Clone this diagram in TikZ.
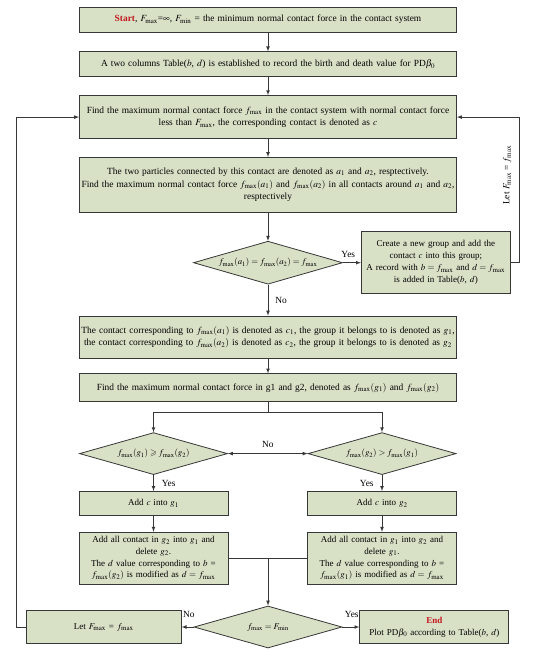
\documentclass[tikz,border=0pt]{standalone}
\usepackage{amsmath}
\usepackage{amssymb}
\usepackage{mathptmx}
\usepackage{fontspec}
\setmainfont{Liberation Serif}
\usepackage{tikz}
\usetikzlibrary{positioning,shapes.geometric,arrows.meta}
\definecolor{boxfill}{RGB}{216,224,198}
\definecolor{linegray}{RGB}{55,55,55}
\definecolor{startred}{RGB}{196,20,28}
\tikzstyle{block} = [draw=linegray, fill=boxfill, rectangle, line width=0.8pt,
    text width=375pt, inner xsep=1pt, inner ysep=2pt, align=center,
    minimum height=25pt, font=\fontsize{9.4}{12.6}\selectfont]
\tikzstyle{smallblock} = [block, text width=147pt, font=\fontsize{9}{12}\selectfont]
\tikzstyle{mergeblock} = [smallblock, minimum height=52pt, font=\fontsize{9}{11.8}\selectfont]
\tikzstyle{decision} = [draw=linegray, fill=boxfill, diamond, aspect=3.5, line width=0.8pt,
    inner sep=0pt, minimum width=148pt, minimum height=42pt,
    font=\fontsize{8.8}{10}\selectfont]
\tikzstyle{line} = [draw=linegray, line width=0.7pt]
\tikzstyle{answer} = [font=\fontsize{9.4}{10}\selectfont, inner sep=1pt]

\begin{document}
\begin{tikzpicture}[>=latex]
	  \useasboundingbox (0pt,0pt) rectangle (550pt,-650pt);
	  % main column
	  \node [block] (start) at (268pt,-19.5pt) {{\color{startred}\bfseries Start}, $F_{\max}$=$\infty$, $F_{\min}$ = the minimum normal contact force in the contact system};
	  \node [block, below=19pt of start] (table) {A two columns Table($b$, $d$) is established to record the birth and death value for PD$\beta_0$};
	  \node [block, below=18pt of table, minimum height=43pt] (find) {Find the maximum normal contact force $f_{\max}$ in the contact system with normal contact force\\ less than $F_{\max}$, the corresponding contact is denoted as $c$};
	  \node [block, below=18pt of find, minimum height=55pt] (around) {The two particles connected by this contact are denoted as $a_1$ and $a_2$, resptectively.\\ Find the maximum normal contact force $f_{\max}(a_1)$ and $f_{\max}(a_2)$ in all contacts around $a_1$ and $a_2$,\\ resptectively};
	  \node [decision, below=28pt of around, minimum width=149pt, minimum height=43pt] (same) {$f_{\max}(a_1) = f_{\max}(a_2) = f_{\max}$};
	  \node [smallblock, right=18pt of same, minimum height=62pt] (newgroup) {Create a new group and add the\\ contact $c$ into this group;\\ A record with $b = f_{\max}$ and $d = f_{\max}$\\ is added in Table($b$, $d$)};
	  \node [block, below=31pt of same, minimum height=42pt] (denote) {The contact corresponding to $f_{\max}(a_1)$ is denoted as $c_1$, the group it belongs to is denoted as $g_1$,\\ the contact corresponding to $f_{\max}(a_2)$ is denoted as $c_2$, the group it belongs to is denoted as $g_2$};
	  \node [block, below=15pt of denote, minimum height=28pt] (findg) {Find the maximum normal contact force in g1 and g2, denoted as $f_{\max}(g_1)$ and $f_{\max}(g_2)$};
	  % two branches
	  \node [decision, below=30pt of findg, xshift=-114.5pt] (geq) {$f_{\max}(g_1) \geqslant f_{\max}(g_2)$};
	  \node [decision, below=30pt of findg, xshift=114pt] (gt) {$f_{\max}(g_2) > f_{\max}(g_1)$};
	  \node [smallblock, below=16pt of geq, minimum height=24pt] (addone) {Add $c$ into $g_1$};
	  \node [smallblock, below=16pt of gt, minimum height=24pt] (addtwo) {Add $c$ into $g_2$};
	  \node [mergeblock, below=16pt of addone] (mergeone) {Add all contact in $g_2$ into $g_1$ and\\ delete $g_2$.\\ The $d$ value corresponding to $b$ =\\ $f_{\max}(g_2)$ is modified as $d = f_{\max}$};
	  \node [mergeblock, below=16pt of addtwo] (mergetwo) {Add all contact in $g_1$ into $g_2$ and\\ delete $g_1$.\\ The $d$ value corresponding to $b$ =\\ $f_{\max}(g_1)$ is modified as $d = f_{\max}$};
	  \coordinate (join) at (findg |- mergeone.east);
	  \coordinate (mergebot) at (findg |- mergeone.south);
	  % last test
	  \node [decision, below=21pt of mergebot] (last) {$f_{\max} = F_{\min}$};
	  \node [smallblock, right=17pt of last, minimum height=33pt] (stop) {{\color{startred}\bfseries End}\\ Plot PD$\beta_0$ according to Table($b$, $d$)};
	  \node [smallblock, left=12pt of last, text width=153pt, minimum height=33pt] (letmax) {Let $F_{\max}$ = $f_{\max}$};
	  % connectors
	  \draw [line,->] (start) -- (table);
	  \draw [line,->] (table) -- (find);
	  \draw [line,->] (find) -- (around);
	  \draw [line,->] (around) -- (same);
	  \draw [line,->] (same) -- node [answer, above=4pt, pos=0.3] {Yes} (newgroup);
	  \draw [line,->] (same) -- node [answer, right=6pt] {No} (denote);
	  \draw [line,->] (denote) -- (findg);
	  \draw [line,->] (findg.south) -- ++(0,-10pt) -| (geq.north);
	  \draw [line,->] (findg.south) -- ++(0,-10pt) -| (gt.north);
	  \draw [line,<->] (geq.east) -- node [answer, above=5pt] {No} (gt.west);
	  \draw [line,->] (geq) -- node [answer, right=7pt] {Yes} (addone);
	  \draw [line,->] (gt) -- node [answer, left=7pt] {Yes} (addtwo);
	  \draw [line,->] (addone) -- (mergeone);
	  \draw [line,->] (addtwo) -- (mergetwo);
	  \draw [line] (mergeone.east) -- (mergetwo.west);
	  \draw [line,->] (join) -- (last);
	  \draw [line,->] (last) -- node [answer, above=8pt, pos=0.4] {No} (letmax);
	  \draw [line,->] (last) -- node [answer, above=8pt, pos=0.55] {Yes} (stop);
	  \draw [line,->] (letmax.west) -- ++(-9pt,0) |- (find.west);
	  \draw [line,->] (newgroup.east) -- ++(9pt,0) |- node [answer, pos=0.3, xshift=-7pt, rotate=90, anchor=south] {Let $F_{\max}$ = $f_{\max}$} (find.east);
	\end{tikzpicture}
\end{document}
